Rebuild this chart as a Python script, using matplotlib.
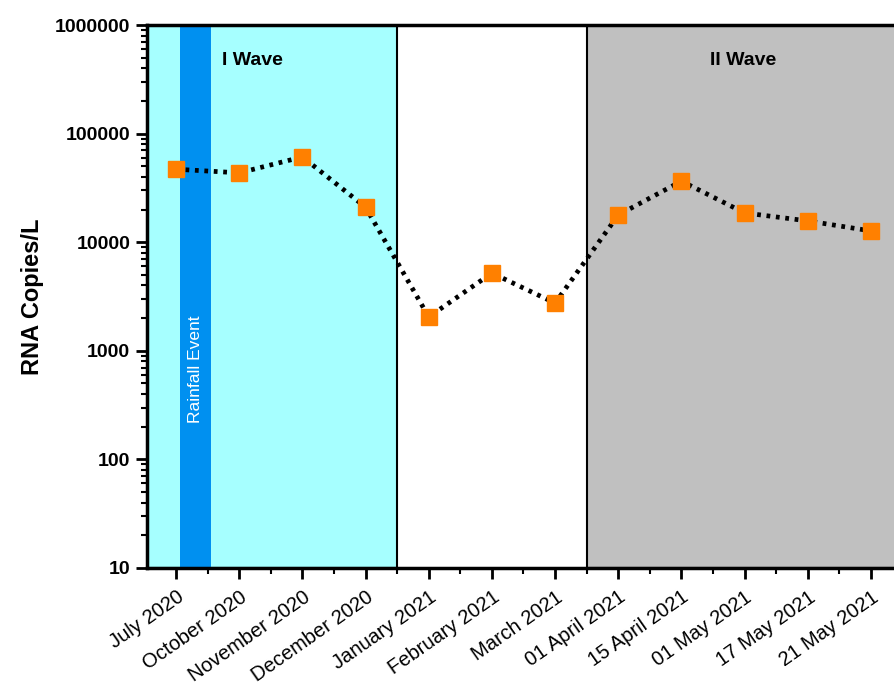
import numpy as np
import matplotlib
matplotlib.use("Agg")
import matplotlib.pyplot as plt
from matplotlib.ticker import LogLocator, FixedLocator, NullFormatter

plt.rcParams['font.family'] = ['Liberation Sans', 'DejaVu Sans']

# sampling dates and RNA copies per litre
dates = ["July 2020", "October 2020", "November 2020", "December 2020",
         "January 2021", "February 2021", "March 2021", "01 April 2021",
         "15 April 2021", "01 May 2021", "17 May 2021", "21 May 2021"]
copies = [47000, 43500, 61000, 21000, 2050, 5200, 2750,
          17800, 36500, 18600, 15700, 12700]

wave1 = (-0.5, 3.5)
wave2 = (6.5, 12.0)
rain = (0.06, 0.55)

fig = plt.figure(figsize=(8.94, 6.95), dpi=100)
ax = fig.add_axes([147/894, 127/695, 753/894, 543/695])

x = np.arange(len(dates))

ax.axvspan(*wave1, facecolor="#a6ffff", edgecolor="black", linewidth=1.5, zorder=0)
ax.axvspan(*wave2, facecolor="#c0c0c0", edgecolor="black", linewidth=1.5, zorder=0)
ax.axvspan(*rain, facecolor="#0090f0", edgecolor="none", zorder=1)

ax.plot(x, copies, linestyle=(0, (0.8, 1.2)), color="black", linewidth=3.4,
        marker="s", markersize=11.5, markerfacecolor="#ff8000",
        markeredgecolor="#ff8000", zorder=3)

ax.set_yscale("log")
ax.set_ylim(10, 1e6)
ax.set_xlim(-0.46, 11.46)

ax.yaxis.set_minor_locator(LogLocator(base=10, subs=np.arange(2, 10), numticks=20))
ax.yaxis.set_minor_formatter(NullFormatter())
ax.set_yticks([10, 100, 1000, 10000, 100000, 1000000])
ax.set_yticklabels(["10", "100", "1000", "10000", "100000", "1000000"],
                   fontsize=14, fontweight="bold")

ax.set_xticks(x)
ax.set_xticklabels(dates, rotation=35, ha="right", rotation_mode="anchor",
                   fontsize=14.5)
ax.xaxis.set_minor_locator(FixedLocator(x[:-1] + 0.5))

ax.tick_params(axis="both", which="major", direction="out", length=8, width=2)
ax.tick_params(axis="both", which="minor", direction="out", length=4, width=1.5)
ax.tick_params(axis="x", pad=6)
ax.tick_params(axis="y", pad=4)

for side in ["left", "bottom", "top"]:
    ax.spines[side].set_linewidth(2.5)
ax.spines["right"].set_visible(False)

ax.set_ylabel("RNA Copies/L", fontsize=17, fontweight="bold")
ax.yaxis.set_label_coords(-0.137, 0.5)

ax.text(0.73, 4.7e5, "I Wave", fontsize=14, fontweight="bold", va="center", ha="left")
ax.text(8.97, 4.7e5, "II Wave", fontsize=14, fontweight="bold", va="center", ha="center")
ax.text(0.31, 670, "Rainfall Event", color="white", fontsize=12.5, rotation=90,
        ha="center", va="center", zorder=2)

fig.savefig("out.png", dpi=100)
